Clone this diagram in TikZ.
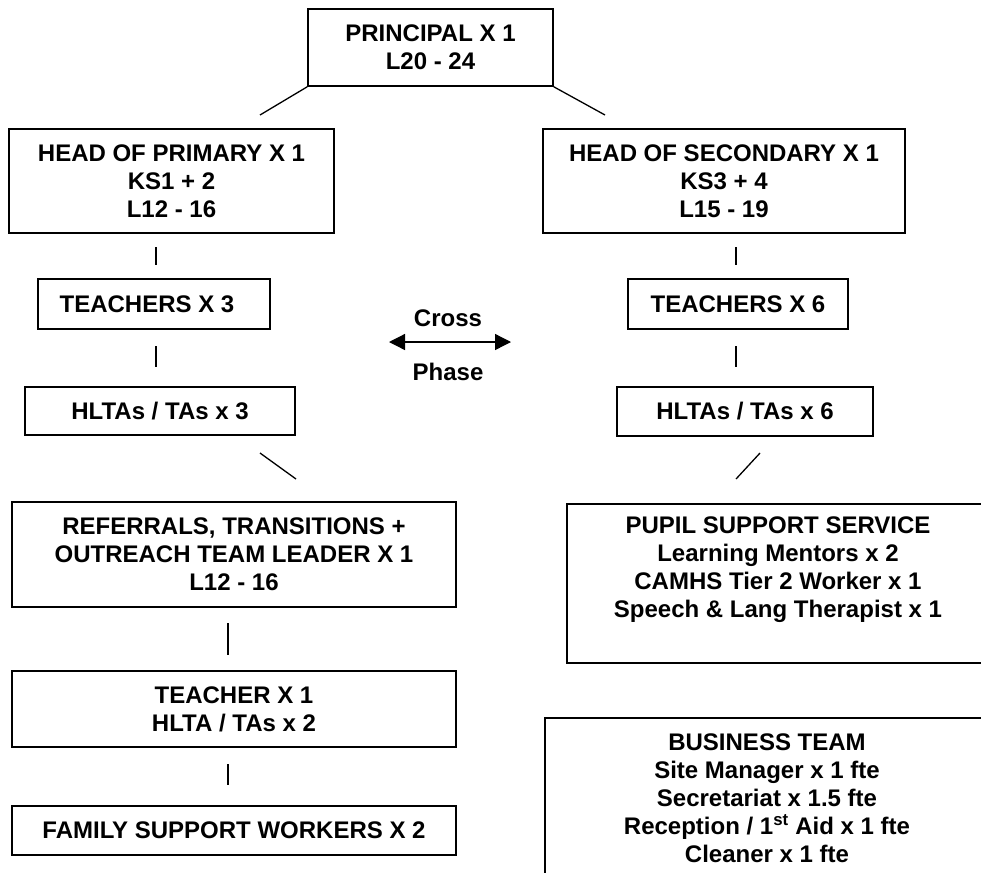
\documentclass[tikz,border=0pt]{standalone}
\usepackage{fontspec}
\setmainfont{Liberation Sans}
\usetikzlibrary{arrows.meta}
\begin{document}
\begin{tikzpicture}[x=1pt,y=-1pt,
  lbl/.style={inner sep=0pt, align=center, font=\fontsize{24}{28}\selectfont\bfseries},
  box/.style={lbl, draw, line width=1.6pt},
  conn/.style={line width=1.3pt},
  edge/.style={line width=1.6pt},
  tip/.style={line width=1.3pt, {Triangle[length=16pt,width=16pt]}-{Triangle[length=16pt,width=16pt]}}]
\useasboundingbox (0,0) rectangle (981,873);
% boxes
\node[box, minimum width=245pt, minimum height=77pt] (principal) at (430.5,47.5) {PRINCIPAL X 1\\L20 - 24};
\node[box, minimum width=325pt, minimum height=104pt] (headp) at (171.5,181) {HEAD OF PRIMARY X 1\\KS1 + 2\\L12 - 16};
\node[box, minimum width=362pt, minimum height=104pt] (heads) at (724,181) {HEAD OF SECONDARY X 1\\KS3 + 4\\L15 - 19};
\node[box, minimum width=232pt, minimum height=50pt] (teach3) at (154,304) {TEACHERS X 3\hspace*{14pt}};
\node[box, minimum width=220pt, minimum height=50pt] (teach6) at (738,304) {TEACHERS X 6};
\node[box, minimum width=270pt, minimum height=48pt] (hlta3) at (160,411) {HLTAs / TAs x 3};
\node[box, minimum width=256pt, minimum height=49pt] (hlta6) at (745,411.5) {HLTAs / TAs x 6};
\node[box, minimum width=444pt, minimum height=105pt] (refer) at (234,554.5) {REFERRALS, TRANSITIONS +\\OUTREACH TEAM LEADER X 1\\L12 - 16};
\node[box, minimum width=444pt, minimum height=76pt] (teacher1) at (234,709) {TEACHER X 1\\HLTA / TAs x 2};
\node[box, minimum width=444pt, minimum height=49pt] (family) at (234,830.5) {FAMILY SUPPORT WORKERS X 2};
% open boxes
\node[lbl] (pupil) at (778,570) {PUPIL SUPPORT SERVICE\\Learning Mentors x 2\\CAMHS Tier 2 Worker x 1\\Speech \& Lang Therapist x 1};
\draw[edge] (981,504) -- (567,504) -- (567,663) -- (981,663);
\node[lbl] (business) at (767,798) {BUSINESS TEAM\\Site Manager x 1 fte\\Secretariat x 1.5 fte\\Reception / 1\textsuperscript{st} Aid x 1 fte\\Cleaner x 1 fte};
\draw[edge] (981,718) -- (545,718) -- (545,873);
% cross phase
\node[lbl] (cross) at (448,318) {Cross};
\node[lbl] (phase) at (448,372) {Phase};
\coordinate (arrL) at (389,342);
\coordinate (arrR) at (511,342);
\draw[tip] (arrL) -- (arrR);
% connector stubs
\coordinate (p1a) at (260,115);
\coordinate (p2a) at (605,115);
\draw[conn] (principal.south west) -- (p1a);
\draw[conn] (principal.south east) -- (p2a);
\coordinate (a1) at (156,247); \coordinate (a2) at (156,265);
\coordinate (b1) at (736,247); \coordinate (b2) at (736,265);
\coordinate (c1) at (156,346); \coordinate (c2) at (156,367);
\coordinate (d1) at (736,346); \coordinate (d2) at (736,367);
\coordinate (e1) at (260,453); \coordinate (e2) at (296,479);
\coordinate (f1) at (760,453); \coordinate (f2) at (736,479);
\coordinate (g1) at (228,623); \coordinate (g2) at (228,655);
\coordinate (h1) at (228,764); \coordinate (h2) at (228,785);
\foreach \s/\t in {a1/a2,b1/b2,c1/c2,d1/d2,e1/e2,f1/f2,g1/g2,h1/h2}
  \draw[conn] (\s) -- (\t);
\end{tikzpicture}
\end{document}
